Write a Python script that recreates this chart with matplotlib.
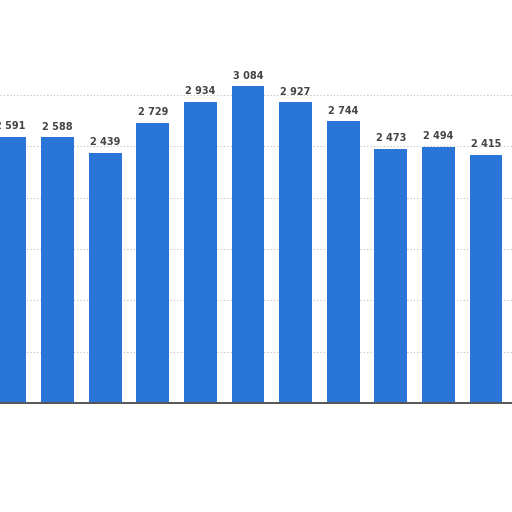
import matplotlib

matplotlib.use("Agg")
import matplotlib.pyplot as plt
import numpy as np

# values (first bar is cut by the left edge)
values = [2591, 2588, 2439, 2729, 2934, 3084, 2927, 2744, 2473, 2494, 2415]
labels = [f"{v:,}".replace(",", " ") for v in values]
grid_ticks = [0, 500, 1000, 1500, 2000, 2500, 3000]

BLUE = "#2a75d8"

fig = plt.figure(figsize=(5.12, 5.12), dpi=100)
ax = fig.add_axes([0, 0.2129, 1, 0.702])

x = np.arange(len(values))
bars = ax.bar(x, values, width=0.69, color=BLUE, zorder=3)

for b, lab in zip(bars, labels):
    ax.text(b.get_x() + b.get_width() / 2, b.get_height() + 55, lab,
            ha="center", va="bottom", fontsize=7, fontweight="bold", color="#444444", zorder=4)

ax.set_xlim(-0.21, 10.546)
ax.set_ylim(0, 3500)
ax.set_yticks(grid_ticks)
ax.yaxis.grid(True, ls=(0, (1, 2)), color="#bdbdbd", lw=0.8, zorder=0)
ax.tick_params(left=False, bottom=False, labelleft=False, labelbottom=False)
for side in ("top", "left", "right"):
    ax.spines[side].set_visible(False)
ax.spines["bottom"].set_color("#555555")
ax.spines["bottom"].set_linewidth(1.4)
ax.spines["bottom"].set_zorder(5)

fig.savefig("out.png", dpi=100)
